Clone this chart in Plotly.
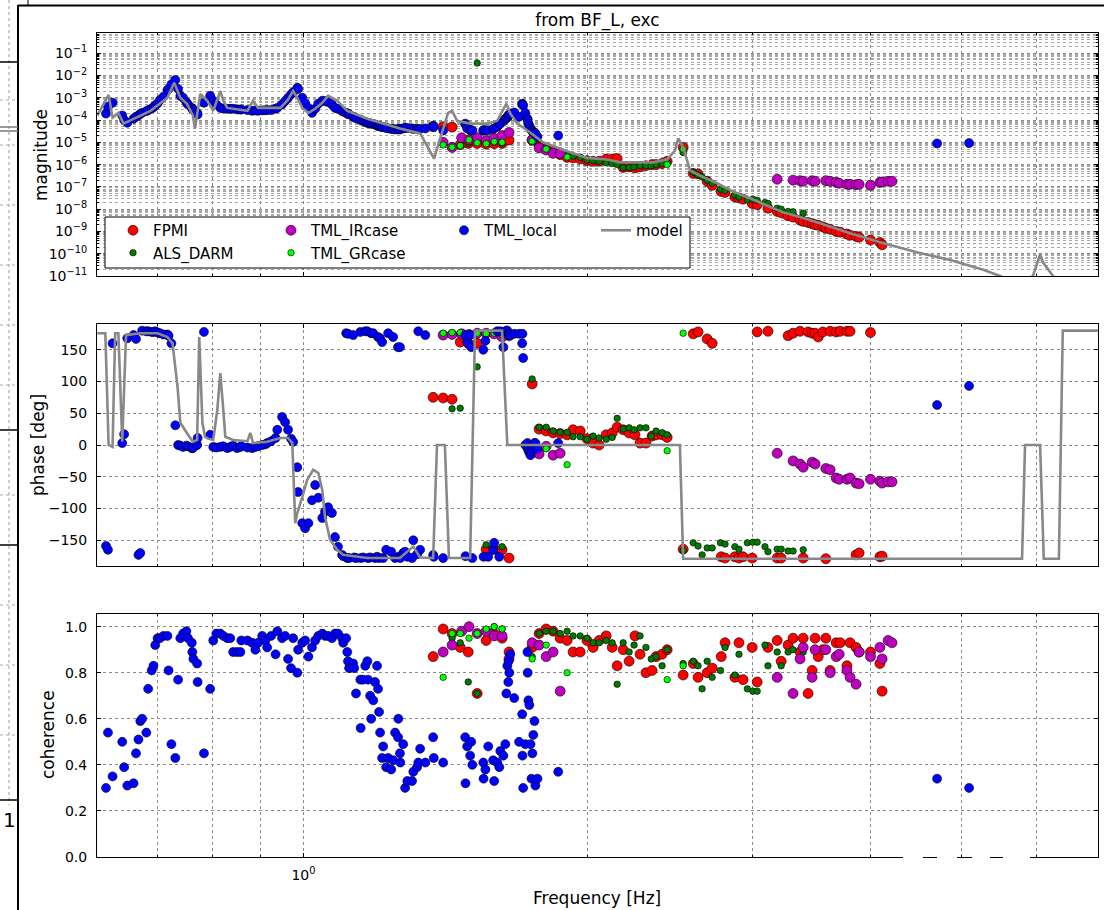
import numpy as np
import plotly.graph_objects as go

# ---------------------------------------------------------------- data
# FPMI
fpmi_f = [1.373, 1.407, 1.438, 1.467, 1.496, 1.529, 1.563, 1.594, 1.625, 1.653,
          1.749, 1.779, 1.810, 1.841, 1.873, 1.905, 1.933, 1.967, 2.000, 2.030,
          2.060, 2.096, 2.127, 2.153, 2.185, 2.217, 2.249, 2.277, 2.310, 2.345,
          2.368, 2.403, 2.433, 2.530, 2.593, 2.624, 2.683, 2.716, 2.777, 2.803,
          2.871, 2.900, 2.929, 2.995, 3.032, 3.113, 3.184, 3.215, 3.270, 3.310,
          3.367, 3.393, 3.434, 3.468, 3.493, 3.520, 3.560, 3.586, 3.624, 3.678,
          3.714, 3.776, 3.805, 3.861, 3.890, 4.000, 4.093, 4.115]
fpmi_mag = [5.0e-5, 5.0e-5, 4.8e-5, 7.9e-6, 8.9e-6, 8.9e-6, 8.3e-6, 8.7e-6, 8.9e-6, 1.26e-5,
            1.26e-5, 7.1e-6, 5.2e-6, 4.0e-6, 2.8e-6, 2.1e-6, 2.0e-6, 1.78e-6, 1.5e-6, 1.41e-6,
            1.41e-6, 1.78e-6, 1.78e-6, 1.86e-6, 7.4e-7, 7.9e-7, 7.1e-7, 7.9e-7, 8.9e-7, 1.0e-6,
            1.0e-6, 1.12e-6, 1.41e-6, 5.9e-6, 4.0e-7, 3.8e-7, 1.78e-7, 1.17e-7, 6.3e-8, 5.6e-8,
            3.5e-8, 3.2e-8, 2.8e-8, 1.8e-8, 1.6e-8, 1.1e-8, 7.9e-9, 6.9e-9, 5.0e-9, 4.4e-9,
            3.2e-9, 2.8e-9, 2.5e-9, 2.2e-9, 2.0e-9, 1.9e-9, 1.6e-9, 1.4e-9, 1.26e-9, 1.0e-9,
            9.3e-10, 7.6e-10, 6.8e-10, 6.0e-10, 5.5e-10, 4.1e-10, 3.2e-10, 2.5e-10]
fpmi_phase = [75, 74, 72, 162, 160, 160, -164, -164, -165, -178,
              96, 25, 22, 19, 18, 16, 24, 22, 10, 3,
              0, 16, 19, 28, 24, 19, 16, 3, 3, 14,
              16, 16, 12, -164, 175, 178, 167, 160, -176, -178,
              -176, -178, -176, -178, 178, 179, -178, -178, 172, 176,
              179, -178, 178, 176, 176, 170, 178, -179, 179, 178,
              179, 179, 179, -173, -170, 177, -176, -175]
fpmi_coh = [0.87, 0.99, 0.97, 0.91, 0.89, 0.71, 0.94, 0.97, 0.95, 0.89,
            0.91, 0.97, 0.99, 0.98, 0.95, 0.94, 0.89, 0.89, 0.94, 0.91,
            0.94, 0.96, 0.91, 0.83, 0.90, 0.85, 0.96, 0.88, 0.80, 0.81,
            0.87, 0.88, 0.90, 0.79, 0.84, 0.78, 0.80, 0.82, 0.87, 0.93,
            0.78, 0.93, 0.77, 0.91, 0.76, 0.91, 0.94, 0.85, 0.92, 0.95,
            0.89, 0.95, 0.71, 0.81, 0.95, 0.87, 0.90, 0.95, 0.81, 0.93,
            0.93, 0.83, 0.93, 0.91, 0.89, 0.89, 0.84, 0.72]

# ALS_DARM
als_f = [1.438, 1.467, 1.496, 1.529, 1.563, 1.594, 1.625, 1.749, 1.779, 1.810,
         1.841, 1.873, 1.905, 1.933, 1.967, 2.000, 2.030, 2.060, 2.096, 2.127,
         2.153, 2.185, 2.217, 2.244, 2.277, 2.310, 2.340, 2.368, 2.403, 2.433,
         2.530, 2.593, 2.624, 2.650, 2.683, 2.716, 2.772, 2.803, 2.871, 2.900,
         2.960, 3.000, 3.032, 3.090, 3.113, 3.184, 3.215, 3.270, 3.310, 3.393]
als_mag = [7.1e-6, 7.1e-6, 8.9e-6, 3.6e-2, 8.9e-6, 1.0e-5, 8.9e-6, 1.78e-5, 7.1e-6, 5.6e-6,
           4.0e-6, 3.2e-6, 2.5e-6, 2.4e-6, 2.1e-6, 1.6e-6, 1.5e-6, 1.41e-6, 1.2e-6, 1.12e-6,
           1.0e-6, 7.4e-7, 7.4e-7, 7.9e-7, 8.9e-7, 8.9e-7, 8.9e-7, 1.0e-6, 1.12e-6, 1.26e-6,
           3.5e-6, 4.5e-7, 3.5e-7, 2.8e-7, 2.0e-7, 1.45e-7, 7.9e-8, 6.9e-8, 4.2e-8, 3.5e-8,
           2.6e-8, 2.8e-8, 2.5e-8, 2.0e-8, 1.8e-8, 1.1e-8, 1.0e-8, 7.9e-9, 7.6e-9, 6.6e-9]
als_phase = [57, 58, 175, 123, -157, 176, -160, 104, 28, 28,
             22, 20, 20, 13, 13, 9, 14, 11, 9, 12,
             42, 25, 27, 24, 27, 27, 14, 22, 19, 16,
             -166, -154, -159, -173, -162, -162, -154, -156, -160, -164,
             -154, -153, -153, -160, -168, -164, -164, -167, -167, -165]
als_coh = [0.95, 0.93, 0.76, 0.71, 0.98, 1.00, 0.99, 0.87, 0.97, 0.98,
           0.98, 0.97, 0.98, 0.96, 0.96, 0.95, 0.93, 0.93, 0.94, 0.93,
           0.75, 0.93, 0.89, 0.92, 0.96, 0.91, 0.86, 0.87, 0.83, 0.90,
           0.84, 0.85, 0.83, 0.73, 0.85, 0.78, 0.81, 0.91, 0.79, 0.88,
           0.73, 0.72, 0.72, 0.92, 0.83, 0.89, 0.83, 0.89, 0.90, 0.89]

# TML_IRcase
ir_f = [1.407, 1.438, 1.472, 1.499, 1.529, 1.563, 1.594, 1.625, 1.653, 1.749,
        1.779, 1.810, 1.841, 1.873, 3.184, 3.310, 3.367, 3.393, 3.468, 3.493,
        3.586, 3.624, 3.678, 3.705, 3.776, 3.805, 3.861, 3.890, 4.000, 4.093,
        4.115, 4.176, 4.216]
ir_mag = [1.0e-5, 5.9e-6, 1.6e-5, 1.3e-5, 1.6e-5, 1.2e-5, 1.5e-5, 2.0e-5, 2.75e-5, 1.26e-5,
          5.6e-6, 4.5e-6, 3.2e-6, 3.2e-6, 2.2e-7, 2.0e-7, 1.9e-7, 1.78e-7, 1.9e-7, 1.78e-7,
          1.9e-7, 1.78e-7, 1.6e-7, 1.45e-7, 1.3e-7, 1.3e-7, 1.26e-7, 1.3e-7, 1.17e-7, 1.6e-7,
          1.66e-7, 1.78e-7, 1.78e-7]
ir_phase = [173, 174, 175, 174, 176, 176, 175, 170, 172, -10,
            -14, -2, -16, -13, -13, -25, -30, -35, -27, -30,
            -37, -39, -52, -54, -54, -52, -60, -61, -54, -57,
            -60, -58, -58]
ir_coh = [0.89, 0.92, 0.98, 1.00, 0.97, 0.98, 0.96, 0.96, 0.86, 0.93,
          0.92, 0.87, 0.89, 0.72, 0.78, 0.71, 0.86, 0.91, 0.78, 0.90,
          0.90, 0.80, 0.87, 0.88, 0.81, 0.78, 0.75, 0.89, 0.87, 0.91,
          0.86, 0.94, 0.93]

# TML_GRcase
gr_f = [1.407, 1.438, 1.467, 1.499, 1.529, 1.563, 1.594, 1.625, 1.749, 1.810,
        1.905, 2.433, 2.530]
gr_mag = [7.6e-6, 6.0e-6, 7.1e-6, 1.3e-5, 9.5e-6, 8.7e-6, 1.07e-5, 1.0e-5, 1.12e-5, 5.0e-6,
          2.2e-6, 1.0e-6, 5.0e-6]
gr_phase = [176, 177, 177, 175, 176, 175, 176, 174, -4, -6,
            -31, -9, 176]
gr_coh = [0.78, 0.97, 0.97, 0.95, 0.97, 0.99, 1.00, 0.99, 0.86, 0.92,
          0.80, 0.77, 0.83]

# TML_local
loc_f = [0.617, 0.620, 0.627, 0.642, 0.645, 0.650, 0.660, 0.664, 0.668, 0.671,
         0.674, 0.681, 0.684, 0.690, 0.693, 0.696, 0.700, 0.704, 0.710, 0.717,
         0.719, 0.724, 0.731, 0.736, 0.740, 0.745, 0.751, 0.754, 0.761, 0.762,
         0.764, 0.771, 0.772, 0.784, 0.796, 0.802, 0.808, 0.816, 0.822, 0.830,
         0.836, 0.842, 0.850, 0.857, 0.859, 0.872, 0.882, 0.889, 0.895, 0.904,
         0.911, 0.915, 0.924, 0.934, 0.938, 0.949, 0.956, 0.963, 0.970, 0.975,
         0.985, 0.987, 0.997, 1.004, 1.012, 1.021, 1.029, 1.037, 1.047, 1.054,
         1.062, 1.072, 1.080, 1.088, 1.099, 1.102, 1.110, 1.113, 1.115, 1.118,
         1.129, 1.132, 1.137, 1.149, 1.150, 1.157, 1.163, 1.169, 1.171, 1.177,
         1.180, 1.186, 1.191, 1.197, 1.200, 1.203, 1.206, 1.212, 1.215, 1.224,
         1.230, 1.239, 1.245, 1.251, 1.260, 1.261, 1.266, 1.267, 1.276, 1.282,
         1.289, 1.304, 1.308, 1.320, 1.324, 1.330, 1.347, 1.373, 1.375, 1.407,
         1.485, 1.486, 1.492, 1.503, 1.507, 1.511, 1.552, 1.553, 1.560, 1.571,
         1.590, 1.594, 1.606, 1.614, 1.618, 1.630, 1.638, 1.642, 1.646, 1.650,
         1.651, 1.654, 1.658, 1.674, 1.694, 1.707, 1.708, 1.711, 1.720, 1.729,
         1.730, 1.733, 1.737, 1.742, 1.746, 1.750, 1.754, 1.759, 1.763, 1.772,
         1.864, 4.707, 5.090]
loc_mag = [1.95e-4, 4.0e-4, 6.0e-4, 1.6e-4, 1.0e-4, 7.6e-5, 1.15e-4, 1.41e-4, 1.6e-4, 1.9e-4,
           2.1e-4, 2.5e-4, 2.8e-4, 3.3e-4, 3.8e-4, 4.5e-4, 5.6e-4, 7.9e-4, 1.12e-3, 2.2e-3,
           2.5e-3, 4.0e-3, 6.3e-3, 2.5e-3, 1.23e-3, 1.0e-3, 6.3e-4, 5.0e-4, 3.5e-4, 3.2e-4,
           2.8e-4, 2.1e-4, 1.78e-4, 6.0e-4, 1.23e-3, 7.4e-4, 5.0e-4, 3.5e-4, 3.3e-4, 3.2e-4,
           3.2e-4, 3.2e-4, 3.0e-4, 2.95e-4, 3.0e-4, 2.8e-4, 2.6e-4, 2.7e-4, 2.6e-4, 2.7e-4,
           2.75e-4, 2.8e-4, 2.8e-4, 3.2e-4, 3.5e-4, 5.0e-4, 7.1e-4, 1.0e-3, 1.41e-3, 1.78e-3,
           2.8e-3, 2.5e-3, 1.0e-3, 5.6e-4, 3.5e-4, 2.1e-4, 3.2e-4, 5.4e-4, 7.4e-4, 7.1e-4,
           6.6e-4, 5.0e-4, 3.5e-4, 3.2e-4, 2.5e-4, 2.4e-4, 2.1e-4, 1.95e-4, 1.9e-4, 1.8e-4,
           1.41e-4, 1.38e-4, 1.2e-4, 1.05e-4, 1.0e-4, 8.9e-5, 8.3e-5, 7.6e-5, 7.4e-5, 7.1e-5,
           6.9e-5, 6.6e-5, 6.3e-5, 5.6e-5, 5.5e-5, 5.4e-5, 5.2e-5, 5.0e-5, 4.8e-5, 4.4e-5,
           4.2e-5, 4.0e-5, 4.0e-5, 3.8e-5, 3.8e-5, 4.0e-5, 4.0e-5, 3.8e-5, 4.2e-5, 4.5e-5,
           4.4e-5, 4.2e-5, 4.0e-5, 4.0e-5, 3.8e-5, 4.0e-5, 4.2e-5, 5.6e-5, 5.0e-5, 3.4e-5,
           6.9e-5, 6.3e-5, 4.2e-5, 3.5e-5, 3.5e-5, 3.4e-5, 3.4e-5, 3.5e-5, 3.5e-5, 3.5e-5,
           4.0e-5, 4.2e-5, 5.0e-5, 6.3e-5, 6.9e-5, 8.9e-5, 1.12e-4, 1.2e-4, 1.3e-4, 1.6e-4,
           1.5e-4, 1.78e-4, 1.95e-4, 2.2e-4, 1.41e-4, 5.4e-4, 5.0e-4, 4.5e-4, 2.1e-4, 1.15e-4,
           1.0e-4, 6.9e-5, 5.6e-5, 4.2e-5, 3.5e-5, 3.2e-5, 2.8e-5, 2.6e-5, 2.5e-5, 1.78e-5,
           2.0e-5, 8.9e-6, 9.3e-6]
loc_phase = [-159, -165, 160, 3, 17, 168, 173, 167, -173, -170,
             180, 179, 179, 178, 178, 179, 177, 176, 174, 174,
             172, 160, 31, 0, -1, -3, -1, -2, -5, -5,
             -4, 0, 11, 178, 16, -3, -4, -3, -2, -5,
             -3, -1, -5, -3, -2, -4, -5, -3, -2, 0,
             1, 3, 6, 11, 24, 44, 36, 24, 10, 5,
             -35, -74, -123, -131, -123, -87, -63, -83, -115, -105,
             -98, -107, -145, -160, -173, -175, 176, -178, 175, -178,
             173, -177, -178, 178, -178, -177, 179, 179, -178, -177,
             176, 176, -178, -176, 170, -178, 168, 162, -178, -165,
             176, -168, 170, -178, 154, -176, 154, -178, -170, -168,
             -176, -178, -150, -172, 179, -165, 173, -173, -176, -178,
             173, -175, 162, 173, 154, -178, 150, -176, 164, -176,
             -165, -154, 179, -176, 179, 154, 178, 180, 180, 175,
             173, 175, 173, 175, 175, 160, 175, 137, 0, 3,
             -5, -8, -12, -16, -10, -5, 0, 3, 3, -6,
             3, 63, 93]
loc_coh = [0.30, 0.54, 0.35, 0.50, 0.39, 0.31, 0.32, 0.45, 0.51, 0.59,
           0.60, 0.54, 0.73, 0.81, 0.83, 0.92, 0.95, 0.95, 0.96, 0.96,
           0.81, 0.49, 0.43, 0.77, 0.95, 0.97, 0.98, 0.95, 0.93, 0.89,
           0.86, 0.84, 0.76, 0.45, 0.73, 0.94, 0.97, 0.97, 0.96, 0.95,
           0.95, 0.89, 0.89, 0.89, 0.94, 0.94, 0.93, 0.90, 0.93, 0.96,
           0.94, 0.91, 0.96, 0.88, 0.98, 0.95, 0.96, 0.86, 0.82, 0.95,
           0.80, 0.90, 0.93, 0.94, 0.87, 0.91, 0.94, 0.96, 0.97, 0.96,
           0.96, 0.95, 0.97, 0.97, 0.95, 0.93, 0.95, 0.89, 0.85, 0.82,
           0.84, 0.82, 0.71, 0.77, 0.56, 0.77, 0.83, 0.85, 0.77, 0.70,
           0.60, 0.68, 0.76, 0.83, 0.73, 0.63, 0.54, 0.43, 0.48, 0.39,
           0.43, 0.38, 0.42, 0.54, 0.52, 0.60, 0.45, 0.41, 0.49, 0.30,
           0.33, 0.33, 0.37, 0.39, 0.41, 0.47, 0.41, 0.52, 0.43, 0.41,
           0.52, 0.32, 0.48, 0.44, 0.50, 0.40, 0.41, 0.34, 0.38, 0.48,
           0.42, 0.33, 0.41, 0.39, 0.46, 0.44, 0.49, 0.71, 0.83, 0.76,
           0.85, 0.80, 0.88, 0.69, 0.50, 0.62, 0.44, 0.30, 0.49, 0.89,
           0.80, 0.68, 0.66, 0.49, 0.34, 0.45, 0.53, 0.59, 0.31, 0.34,
           0.37, 0.34, 0.30]

# model transfer function
model_f = [0.604, 0.621, 0.627, 0.636, 0.644, 0.660, 0.688, 0.717, 0.729, 0.740,
           0.752, 0.763, 0.767, 0.777, 0.790, 0.802, 0.816, 0.822, 0.830, 0.872,
           0.884, 0.895, 0.945, 0.961, 0.975, 0.985, 0.997, 1.012, 1.029, 1.047,
           1.062, 1.086, 1.113, 1.169, 1.215, 1.266, 1.330, 1.376, 1.403, 1.424,
           1.438, 1.456, 1.503, 1.567, 1.606, 1.630, 1.642, 1.658, 1.686, 1.729,
           1.796, 1.905, 2.000, 2.100, 2.169, 2.350, 2.433, 2.480, 2.500, 2.530,
           2.573, 2.637, 2.750, 2.866, 2.980, 3.100, 3.230, 3.367, 3.510, 3.805,
           4.120, 4.480, 4.860, 5.270, 5.490, 5.700, 5.950, 6.055, 6.100, 6.250,
           6.440, 6.980]
model_mag = [1.6e-4, 1.35e-3, 1.3e-4, 2.1e-4, 6.9e-5, 1.15e-4, 2.6e-4, 1.0e-3, 4.7e-3, 1.0e-3,
             5.4e-4, 1.6e-4, 4.2e-5, 1.5e-3, 7.4e-4, 2.6e-4, 2.0e-3, 7.4e-4, 3.5e-4, 2.6e-4,
             7.4e-4, 3.5e-4, 3.5e-4, 7.4e-4, 2.0e-3, 1.0e-3, 3.5e-4, 2.1e-4, 3.2e-4, 6.0e-4,
             1.23e-3, 7.4e-4, 2.6e-4, 1.15e-4, 6.9e-5, 4.2e-5, 2.5e-5, 1.86e-6, 2.75e-5, 2.1e-4,
             2.6e-4, 9.3e-5, 6.9e-5, 6.9e-5, 9.3e-5, 3.2e-4, 5.4e-4, 1.95e-4, 6.9e-5, 3.4e-5,
             1.0e-5, 4.0e-6, 2.0e-6, 1.7e-6, 1.26e-6, 1.26e-6, 1.7e-6, 4.3e-6, 1.5e-5, 5.9e-6,
             5.5e-7, 3.2e-7, 1.45e-7, 5.8e-8, 3.1e-8, 1.5e-8, 7.2e-9, 4.4e-9, 2.6e-9, 8.3e-10,
             3.0e-10, 1.17e-10, 5.2e-11, 1.9e-11, 1.0e-11, 4.0e-12, 1.0e-11, 9.5e-11, 4.0e-11, 1.0e-11,
             3.2e-12, 1.6e-12]

model_ph_f = [0.604, 0.616, 0.621, 0.627, 0.631, 0.636, 0.642, 0.648, 0.671, 0.700,
              0.717, 0.726, 0.735, 0.740, 0.752, 0.763, 0.771, 0.775, 0.781, 0.786,
              0.792, 0.802, 0.810, 0.816, 0.822, 0.826, 0.842, 0.872, 0.878, 0.884,
              0.915, 0.945, 0.963, 0.973, 0.980, 0.985, 0.997, 1.009, 1.024, 1.037,
              1.047, 1.054, 1.067, 1.086, 1.102, 1.169, 1.266, 1.308, 1.330, 1.373,
              1.386, 1.413, 1.427, 1.503, 1.521, 1.625, 1.646, 2.510, 2.530, 5.794,
              5.836, 6.055, 6.110, 6.340, 6.400, 6.980]
model_phase = [176, 176, 0, -3, 176, 176, 5, 173, 176, 176,
               170, 160, 91, 35, 19, 5, 8, 170, 35, 13,
               10, 8, 55, 113, 55, 13, 8, 6, 19, 3,
               5, 11, 11, 3, -123, -107, -82, -55, -39, -44,
               -71, -113, -149, -165, -173, -178, -178, -160, -177, -178,
               0, 0, -178, -178, 180, 180, 0, 0, -179, -179,
               0, 0, -179, -179, 180, 180]

# ---------------------------------------------------------------- figure
W, H = 1104, 910
ML, MR, MT, MB = 97, 6, 33, 53
PW, PH = W - ML - MR, H - MT - MB


def px_x(px):
    """Horizontal pixel position -> paper coordinate."""
    return (px - ML) / PW


def px_y(py):
    """Vertical pixel position (from top) -> paper coordinate."""
    return (H - MB - py) / PH


FONT = "DejaVu Sans"
EDGE = dict(color="black", width=0.6)

series = [
    dict(name="FPMI", f=fpmi_f, mag=fpmi_mag, ph=fpmi_phase, coh=fpmi_coh,
         color="#ff0000", size=10, legend="legend"),
    dict(name="ALS_DARM", f=als_f, mag=als_mag, ph=als_phase, coh=als_coh,
         color="#007a00", size=6.5, legend="legend"),
    dict(name="TML_IRcase", f=ir_f, mag=ir_mag, ph=ir_phase, coh=ir_coh,
         color="#bf00bf", size=10, legend="legend2"),
    dict(name="TML_GRcase", f=gr_f, mag=gr_mag, ph=gr_phase, coh=gr_coh,
         color="#00ff00", size=6.5, legend="legend2"),
    dict(name="TML_local", f=loc_f, mag=loc_mag, ph=loc_phase, coh=loc_coh,
         color="#0000ff", size=9, legend="legend3"),
]

fig = go.Figure()
for s in series:
    mk = dict(color=s["color"], size=s["size"], line=EDGE)
    for yvals, xa, ya, show in ((s["mag"], "x", "y", True),
                                (s["ph"], "x2", "y2", False),
                                (s["coh"], "x3", "y3", False)):
        fig.add_trace(go.Scatter(
            x=s["f"], y=yvals, mode="markers", marker=mk, name=s["name"],
            legendgroup=s["name"], showlegend=show, legend=s["legend"],
            xaxis=xa, yaxis=ya))

model_line = dict(color="#888888", width=2.6)
fig.add_trace(go.Scatter(x=model_f, y=model_mag, mode="lines", line=model_line,
                         name="model", legendgroup="model", legend="legend4",
                         xaxis="x", yaxis="y"))
fig.add_trace(go.Scatter(x=model_ph_f, y=model_phase, mode="lines", line=model_line,
                         name="model", legendgroup="model", showlegend=False,
                         xaxis="x2", yaxis="y2"))

# ---------------------------------------------------------------- axes
GRID = dict(showgrid=True, gridcolor="#8a8a8a", gridwidth=1, griddash="dot")
MINOR_GRID = dict(showgrid=True, gridcolor="#a8a8a8", gridwidth=1, griddash="dot")
FRAME = dict(showline=True, linecolor="black", linewidth=1, mirror="allticks",
             ticks="inside", tickcolor="black", ticklen=4, zeroline=False,
             automargin=False,
             tickfont=dict(family=FONT, size=14, color="black"))

x_minor = [0.7, 0.8, 0.9, 2, 3, 4, 5, 6]
x_range = [np.log10(0.6036), np.log10(6.976)]
x_common = dict(type="log", range=x_range, tickvals=[1], ticktext=["10<sup>0</sup>"],
                minor=dict(tickvals=x_minor, ticks="inside", ticklen=2,
                           tickcolor="black", **GRID),
                **GRID, **FRAME)

top_dom = [px_y(276), 1.0]
mid_dom = [px_y(566), px_y(324)]
bot_dom = [0.0, px_y(614)]

decades = [10.0 ** e for e in range(-11, 0)]
mag_text = ["10<sup>\u2212%d</sup>" % -e for e in range(-11, 0)]
mag_minor = [k * 10.0 ** e for e in range(-12, 0) for k in range(2, 10)]

fig.update_layout(
    xaxis=dict(anchor="y", domain=[0, 1], showticklabels=False, **x_common),
    xaxis2=dict(anchor="y2", domain=[0, 1], showticklabels=False, **x_common),
    xaxis3=dict(anchor="y3", domain=[0, 1], showticklabels=True,
                ticklabelstandoff=5, **x_common),
    yaxis=dict(anchor="x", domain=top_dom, type="log", range=[-11, -0.093],
               tickvals=decades, ticktext=mag_text, ticklabelstandoff=6,
               minor=dict(tickvals=mag_minor, ticks="inside", ticklen=2,
                          tickcolor="black", **MINOR_GRID),
               **GRID, **FRAME),
    yaxis2=dict(anchor="x2", domain=mid_dom, range=[-190.5, 190.5],
                tickvals=[-150, -100, -50, 0, 50, 100, 150], ticklabelstandoff=6,
                **GRID, **FRAME),
    yaxis3=dict(anchor="x3", domain=bot_dom, range=[0, 1.055],
                tickvals=[0, 0.2, 0.4, 0.6, 0.8, 1.0],
                ticktext=["0.0", "0.2", "0.4", "0.6", "0.8", "1.0"], ticklabelstandoff=6,
                **GRID, **FRAME),
)

# ---------------------------------------------------------------- legend
leg_common = dict(orientation="v", xanchor="left", yanchor="top",
                  bgcolor="rgba(0,0,0,0)", borderwidth=0, tracegroupgap=0,
                  itemwidth=30, font=dict(family=FONT, size=15, color="black"))
leg_top = px_y(214)
fig.update_layout(
    legend=dict(x=px_x(113), y=leg_top, **leg_common),
    legend2=dict(x=px_x(271), y=leg_top, **leg_common),
    legend3=dict(x=px_x(444), y=leg_top, **leg_common),
    legend4=dict(x=px_x(596), y=leg_top, **leg_common),
)

shapes = [
    # legend frame
    dict(type="rect", xref="paper", yref="paper", x0=px_x(105), x1=px_x(690),
         y0=px_y(268), y1=px_y(217), line=dict(color="black", width=1),
         fillcolor="white", layer="above"),
    # window frame around the figure
    dict(type="line", xref="paper", yref="paper", x0=px_x(18), x1=px_x(1104),
         y0=px_y(5.5), y1=px_y(5.5), line=dict(color="black", width=2)),
    dict(type="line", xref="paper", yref="paper", x0=px_x(18), x1=px_x(18),
         y0=px_y(5), y1=px_y(910), line=dict(color="black", width=2)),
    dict(type="line", xref="paper", yref="paper", x0=px_x(28), x1=px_x(28),
         y0=px_y(0), y1=px_y(5), line=dict(color="black", width=1)),
    dict(type="line", xref="paper", yref="paper", x0=px_x(9), x1=px_x(9),
         y0=px_y(0), y1=px_y(805), line=dict(color="#999999", width=1, dash="dot")),
]
for yy, col in ((62, "black"), (127, "#777777"), (131, "#777777"), (430, "black"),
                (545, "black"), (800, "black")):
    shapes.append(dict(type="line", xref="paper", yref="paper", x0=px_x(0), x1=px_x(18),
                       y0=px_y(yy), y1=px_y(yy), line=dict(color=col, width=1.5)))
for yy in (100, 145, 205, 265, 325, 385, 495, 605, 665, 735):
    shapes.append(dict(type="line", xref="paper", yref="paper", x0=px_x(0), x1=px_x(18),
                       y0=px_y(yy), y1=px_y(yy),
                       line=dict(color="#aaaaaa", width=1, dash="dot")))
for a, b in ((903, 923), (937, 957), (972, 990), (1003, 1030)):
    shapes.append(dict(type="line", xref="paper", yref="paper", x0=px_x(a), x1=px_x(b),
                       y0=px_y(857), y1=px_y(857), line=dict(color="white", width=3),
                       layer="above"))

# axis labels
label_font = dict(family=FONT, size=17, color="black")
annotations = [
    dict(text="magnitude", x=px_x(41), y=px_y(155), textangle=-90),
    dict(text="phase [deg]", x=px_x(38), y=px_y(445), textangle=-90),
    dict(text="coherence", x=px_x(48), y=px_y(735), textangle=-90),
    dict(text="Frequency [Hz]", x=px_x(597), y=px_y(898), textangle=0),
]
for a in annotations:
    a.update(xref="paper", yref="paper", showarrow=False,
             xanchor="center", yanchor="middle", font=label_font)
annotations.append(dict(text="1", xref="paper", yref="paper", x=px_x(18), y=px_y(820),
                        xanchor="right", yanchor="middle", showarrow=False,
                        font=dict(family=FONT, size=20, color="black")))

fig.update_layout(
    width=W, height=H,
    margin=dict(l=ML, r=MR, t=MT, b=MB, autoexpand=False),
    paper_bgcolor="white", plot_bgcolor="white",
    font=dict(family=FONT, color="black"),
    title=dict(text="from BF_L, exc", x=0.5, xref="paper", y=1 - 20 / H,
               yanchor="middle", xanchor="center",
               font=dict(family=FONT, size=17, color="black")),
    shapes=shapes,
    annotations=annotations,
)

fig.write_html("out.html")
